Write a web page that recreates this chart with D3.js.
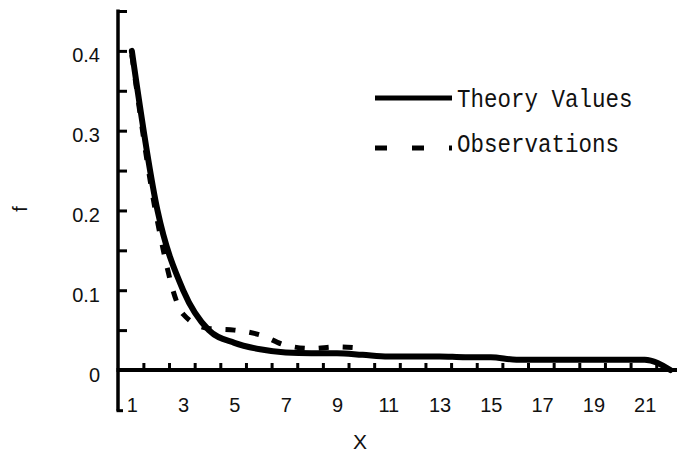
<!DOCTYPE html>
<html>
<head>
<meta charset="utf-8">
<script src="https://cdn.jsdelivr.net/npm/d3@7"></script>
<style>
  html, body { margin: 0; padding: 0; background: #fff; }
  svg { display: block; }
  text { fill: #111; }
</style>
</head>
<body>
<svg id="chart" width="677" height="455"></svg>
<script>
// Theoretical distribution f(X)
const xTheory = [1, 2, 3, 4, 5, 6, 7, 8, 9, 10, 11, 12, 13, 14, 15, 16, 17, 18, 19, 20, 21, 22];
const theoryValues = [0.400, 0.200, 0.100, 0.050, 0.034, 0.026, 0.022, 0.021, 0.021, 0.019, 0.017,
                      0.017, 0.017, 0.016, 0.016, 0.013, 0.013, 0.013, 0.013, 0.013, 0.013, 0.000];

// Observed frequencies
const xObserved = [1, 2, 3, 4, 5, 6, 7, 8, 9, 10];
const observedValues = [0.395, 0.186, 0.070, 0.052, 0.050, 0.044, 0.031, 0.027, 0.029, 0.027];

// Axis ticks
const xTickLabels = [1, 3, 5, 7, 9, 11, 13, 15, 17, 19, 21];
const xTickMarks = [1.45, 2.45, 3.45, 4.45, 5.45, 6.45, 7.45, 8.45, 9.45, 10.45, 11.45,
                    12.45, 13.45, 14.45, 15.45, 16.45, 17.45, 18.45, 19.45, 20.45, 21.45];
const yTickLabels = [0, 0.1, 0.2, 0.3, 0.4];
const yTickMarks = [0.05, 0.1, 0.15, 0.2, 0.25, 0.3, 0.35, 0.4, 0.45];
const seriesNames = ["Theory Values", "Observations"];

const svg = d3.select("#chart");

const x = d3.scaleLinear().domain([0.46, 22.26]).range([118, 677]);
const y = d3.scaleLinear().domain([0, 0.45]).range([370, 11]);
const yBottom = -0.051;

// Curves
const line = d3.line()
  .x(d => x(d[0]))
  .y(d => y(d[1]))
  .curve(d3.curveMonotoneX);

svg.append("path")
  .datum(xObserved.map((v, i) => [v, observedValues[i]]))
  .attr("d", line)
  .attr("fill", "none")
  .attr("stroke", "#000")
  .attr("stroke-width", 5)
  .attr("stroke-dasharray", "10,14");

svg.append("path")
  .datum(xTheory.map((v, i) => [v, theoryValues[i]]))
  .attr("d", line)
  .attr("fill", "none")
  .attr("stroke", "#000")
  .attr("stroke-width", 6)
  .attr("stroke-linejoin", "round")
  .attr("stroke-linecap", "round");

// Y axis: inward ticks
const yAxisTicks = svg.append("g")
  .attr("transform", `translate(${x(0.46)},0)`)
  .call(d3.axisLeft(y).tickValues(yTickMarks).tickSize(-9).tickFormat(""));
yAxisTicks.select(".domain").remove();
yAxisTicks.selectAll(".tick line").attr("stroke", "#000").attr("stroke-width", 3);

svg.append("line")
  .attr("x1", x(0.46)).attr("x2", x(0.46))
  .attr("y1", y(0.45) - 1.5).attr("y2", y(yBottom))
  .attr("stroke", "#000").attr("stroke-width", 3.5);
svg.append("line")
  .attr("x1", x(0.46) - 1.5).attr("x2", x(0.46) + 5)
  .attr("y1", y(yBottom)).attr("y2", y(yBottom))
  .attr("stroke", "#000").attr("stroke-width", 3);

// Y axis labels
const yAxisLabels = svg.append("g")
  .attr("transform", `translate(${x(0.46)},0)`)
  .call(d3.axisLeft(y).tickValues(yTickLabels).tickSize(0).tickPadding(18)
    .tickFormat(d => d === 0 ? "0" : d3.format(".1f")(d)));
yAxisLabels.select(".domain").remove();
yAxisLabels.selectAll("text")
  .attr("dy", "0.55em")
  .attr("font-family", "'Liberation Sans', Arial, sans-serif")
  .attr("font-size", 20)
  .attr("fill", "#111");

// X axis: inward ticks
const xAxisTicks = svg.append("g")
  .attr("transform", `translate(0,${y(0)})`)
  .call(d3.axisBottom(x).tickValues(xTickMarks).tickSize(-7).tickFormat(""));
xAxisTicks.select(".domain").remove();
xAxisTicks.selectAll(".tick line").attr("stroke", "#000").attr("stroke-width", 3);

svg.append("line")
  .attr("x1", x(0.46) - 1.5).attr("x2", 677)
  .attr("y1", y(0)).attr("y2", y(0))
  .attr("stroke", "#000").attr("stroke-width", 4);

// X axis labels
const xAxisLabels = svg.append("g")
  .attr("transform", `translate(0,${y(0)})`)
  .call(d3.axisBottom(x).tickValues(xTickLabels).tickSize(0).tickPadding(28));
xAxisLabels.select(".domain").remove();
xAxisLabels.selectAll("text")
  .attr("font-family", "'Liberation Sans', Arial, sans-serif")
  .attr("font-size", 20)
  .attr("fill", "#111");

// Axis titles
svg.append("text")
  .attr("x", 360).attr("y", 449)
  .attr("text-anchor", "middle")
  .attr("font-family", "'Liberation Sans', Arial, sans-serif")
  .attr("font-size", 21)
  .text("X");

svg.append("text")
  .attr("transform", "translate(27,209) rotate(-90)")
  .attr("text-anchor", "middle")
  .attr("font-family", "'Liberation Sans', Arial, sans-serif")
  .attr("font-size", 20)
  .text("f");

// Legend
const legend = svg.append("g");
const legendRows = [
  { name: seriesNames[0], y: 98, dash: null, width: 5, textY: 107 },
  { name: seriesNames[1], y: 148, dash: "12,25", width: 5, textY: 152 }
];
legendRows.forEach(r => {
  legend.append("line")
    .attr("x1", 375).attr("x2", 452)
    .attr("y1", r.y).attr("y2", r.y)
    .attr("stroke", "#000")
    .attr("stroke-width", r.width)
    .attr("stroke-dasharray", r.dash);
  legend.append("text")
    .attr("transform", `translate(457,${r.textY}) scale(1,1.15)`)
    .attr("font-family", "'Liberation Mono', 'Courier New', monospace")
    .attr("font-size", 22.5)
    .text(r.name);
});
</script>
</body>
</html>
